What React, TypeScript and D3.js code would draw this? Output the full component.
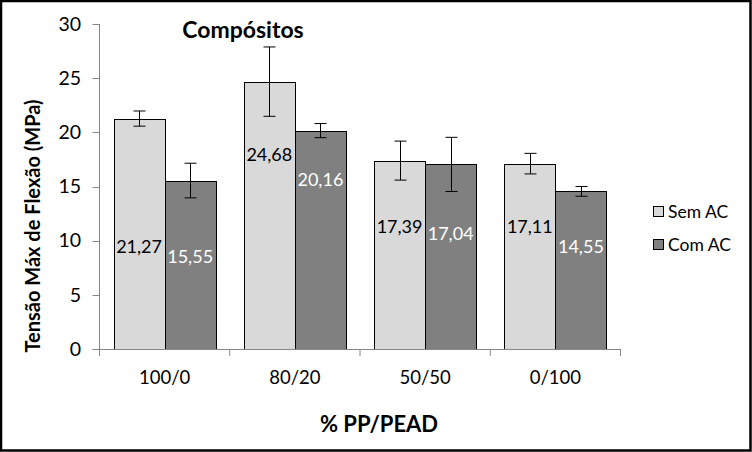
import React from "react";
import * as d3 from "d3";

const categories = ["100/0", "80/20", "50/50", "0/100"];
const seriesNames = ["Sem AC", "Com AC"];
const semAC = [21.27, 24.68, 17.39, 17.11];
const comAC = [15.55, 20.16, 17.04, 14.55];
const semErr = [0.7, 3.2, 1.8, 0.95];
const comErr = [1.6, 0.65, 2.5, 0.45];
// vertical anchor of each value label, in data units (as placed in the original)
const semLabelAt = [9.4, 17.9, 11.3, 11.3];
const comLabelAt = [8.5, 15.6, 10.6, 9.4];
const yTicks = [0, 5, 10, 15, 20, 25, 30];

const W = 752;
const H = 452;
const left = 99.5;
const right = 620.5;
const top = 24;
const bottom = 349;
const FONT = "Lato, 'Open Sans', sans-serif";
const fills = ["#d9d9d9", "#808080"];
const labelColors = ["#000000", "#ffffff"];

export default function App() {
  const x = d3.scaleBand<string>().domain(categories).range([left, right]).paddingInner(0).paddingOuter(0);
  const inner = d3.scaleBand<string>().domain(seriesNames).range([0, x.bandwidth()]).paddingInner(0).paddingOuter(0.275);
  const y = d3.scaleLinear().domain([0, 30]).range([bottom, top]);
  const values = [semAC, comAC];
  const errs = [semErr, comErr];
  const labelsAt = [semLabelAt, comLabelAt];
  const fmt = (v: number) => v.toFixed(2).replace(".", ",");
  const axisColor = "#868686";

  return (
    <svg width={W} height={H} style={{ display: "block", position: "absolute", left: 0, top: 0 }} fontFamily={FONT}>
      <rect x={0} y={0} width={W} height={H} fill="#ffffff" />
      <rect x={1} y={1} width={W - 2.5} height={H - 2.5} fill="none" stroke="#000" strokeWidth={2.5} />
      <line x1={left} x2={left} y1={top} y2={bottom} stroke={axisColor} />
      {yTicks.map((t) => (
        <g key={t}>
          <line x1={left - 7} x2={left} y1={Math.round(y(t)) + 0.5} y2={Math.round(y(t)) + 0.5} stroke={axisColor} />
          <text x={81} y={y(t)} dy="0.35em" textAnchor="end" fontSize={19.5} fill="#000">{t}</text>
        </g>
      ))}
      {seriesNames.map((s, si) =>
        categories.map((c, ci) => {
          const bx = (x(c) as number) + (inner(s) as number);
          const bw = inner.bandwidth();
          const v = values[si][ci];
          return (
            <rect key={s + c} x={Math.round(bx) + 0.5} y={Math.round(y(v)) + 0.5} width={Math.round(bw)} height={Math.round(y(0) - y(v))} fill={fills[si]} stroke="#000" strokeWidth={1} />
          );
        })
      )}
      <line x1={left - 7} x2={right} y1={bottom + 0.5} y2={bottom + 0.5} stroke={axisColor} />
      {categories.map((c) => (
        <line key={"t" + c} x1={x(c) as number} x2={x(c) as number} y1={bottom} y2={bottom + 7} stroke={axisColor} />
      ))}
      <line x1={right} x2={right} y1={bottom} y2={bottom + 7} stroke={axisColor} />
      {seriesNames.map((s, si) =>
        categories.map((c, ci) => {
          const bx = (x(c) as number) + (inner(s) as number);
          const bw = inner.bandwidth();
          const v = values[si][ci];
          const e = errs[si][ci];
          const cx = Math.round(bx + bw / 2) + 0.5;
          return (
            <g key={"e" + s + c}>
              <line x1={cx} x2={cx} y1={y(v + e)} y2={y(v - e)} stroke="#000" />
              <line x1={cx - 6} x2={cx + 6} y1={y(v + e)} y2={y(v + e)} stroke="#000" />
              <line x1={cx - 6} x2={cx + 6} y1={y(v - e)} y2={y(v - e)} stroke="#000" />
              <text x={bx + bw / 2} y={y(labelsAt[si][ci])} dy="0.35em" textAnchor="middle" fontSize={18} fill={labelColors[si]}>{fmt(v)}</text>
            </g>
          );
        })
      )}
      {categories.map((c) => (
        <text key={"l" + c} x={(x(c) as number) + x.bandwidth() / 2} y={384} textAnchor="middle" fontSize={18.5} fill="#000">{c}</text>
      ))}
      <text x={243} y={38} textAnchor="middle" fontSize={23} fontWeight="bold" fill="#000">Compósitos</text>
      <text x={379} y={432} textAnchor="middle" fontSize={22} fontWeight="bold" fill="#000">% PP/PEAD</text>
      <text transform={`translate(40,226) rotate(-90)`} textAnchor="middle" fontSize={20} fontWeight="bold" fill="#000">Tensão Máx de Flexão (MPa)</text>
      {seriesNames.map((s, i) => (
        <g key={"lg" + s}>
          <rect x={653.5} y={206.5 + i * 33} width={10} height={10} fill={fills[i]} stroke="#000" />
          <text x={668} y={211.5 + i * 33} dy="0.35em" fontSize={17.5} fill="#000">{s}</text>
        </g>
      ))}
    </svg>
  );
}
